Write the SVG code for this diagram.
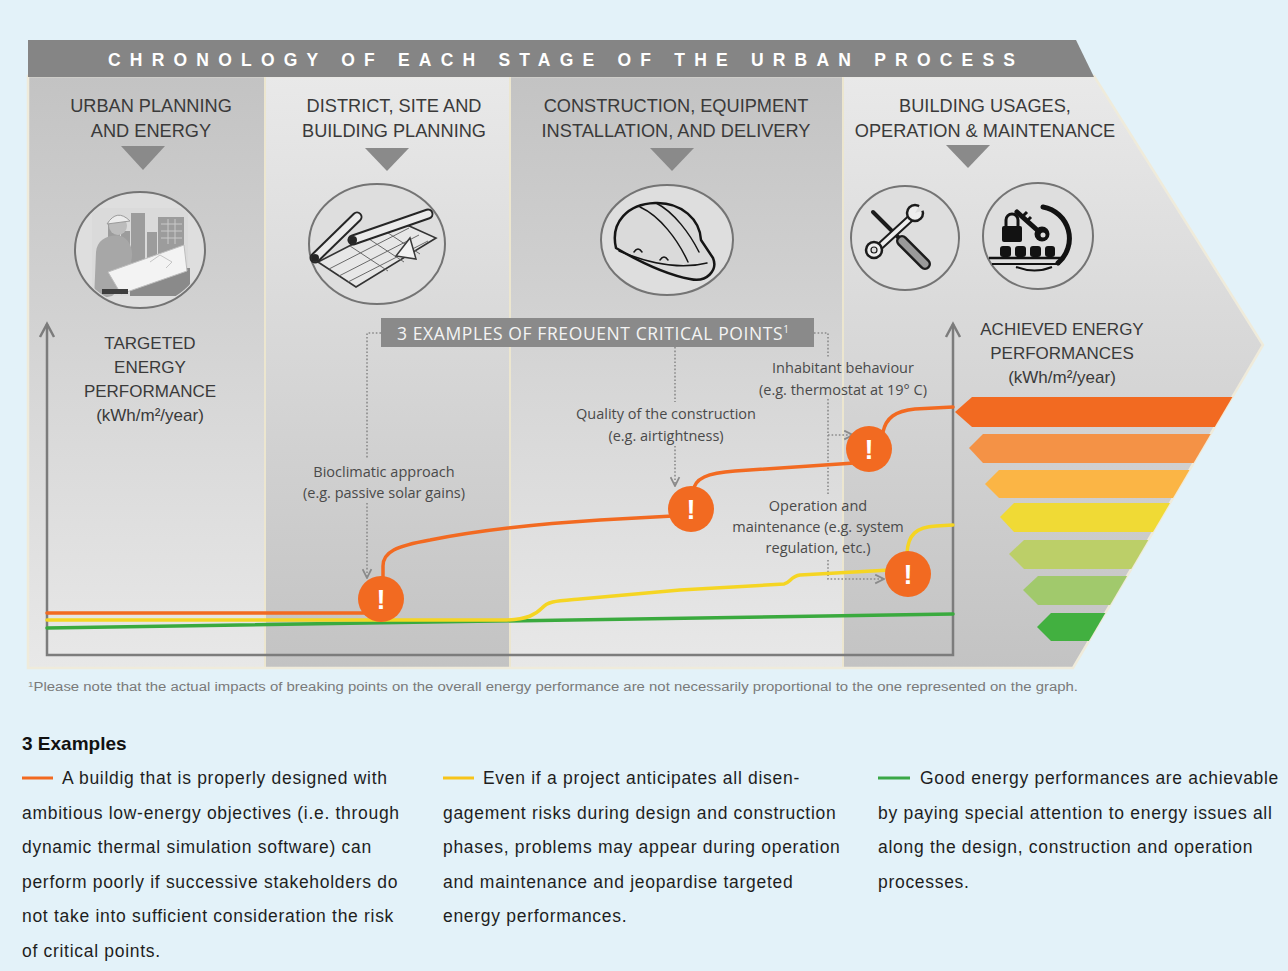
<svg xmlns="http://www.w3.org/2000/svg" width="1288" height="971" viewBox="0 0 1288 971">
  <defs>
    <style>
      .stage { font-family: "Liberation Sans", Arial, sans-serif; font-size: 18.2px; fill: #3a3a3a; text-anchor: middle; }
      .axislbl { font-family: "Liberation Sans", Arial, sans-serif; font-size: 17px; fill: #3a3a3a; text-anchor: middle; }
      .note { font-family: "Open Sans", "Liberation Sans", sans-serif; font-size: 14.5px; fill: #4a4a4a; text-anchor: middle; }
      .body { font-family: "Liberation Sans", Arial, sans-serif; font-size: 17.5px; letter-spacing: 0.7px; fill: #1e1e1e; }
      .tri { fill: #8a8a8a; }
      .ring { fill: #dedede; stroke: #747474; stroke-width: 2; }
      .axis { fill: none; stroke: #7c7c7c; stroke-width: 2.5; }
      .dots { fill: none; stroke: #8a8a8a; stroke-width: 1.6; stroke-dasharray: 1.6 2; }
      .curve { fill: none; stroke-width: 3.5; stroke-linecap: round; stroke-linejoin: round; }
      .crit { fill: #f26a21; }
      .bang { font-family: "Liberation Sans", Arial, sans-serif; font-weight: bold; font-size: 27px; fill: #ffffff; text-anchor: middle; }
      .ink { fill: none; stroke: #151515; stroke-linecap: round; stroke-linejoin: round; }
    </style>
    <linearGradient id="darkTop" gradientUnits="userSpaceOnUse" x1="0" y1="76" x2="0" y2="668">
      <stop offset="0" stop-color="#c3c3c3"/>
      <stop offset="1" stop-color="#e8e8e8"/>
    </linearGradient>
    <linearGradient id="lightTop" gradientUnits="userSpaceOnUse" x1="0" y1="76" x2="0" y2="668">
      <stop offset="0" stop-color="#e9e9e9"/>
      <stop offset="1" stop-color="#c3c3c3"/>
    </linearGradient>
    <clipPath id="bodyClip">
      <path d="M28,76 L1094,76 L1263,345 L1073,668 L28,668 Z"/>
    </clipPath>
    <clipPath id="icon1Clip">
      <ellipse cx="140" cy="250" rx="63" ry="56"/>
    </clipPath>
    <marker id="chev" viewBox="0 0 10 10" refX="9" refY="5" markerWidth="11" markerHeight="11" markerUnits="userSpaceOnUse" orient="auto">
      <path d="M1,1 L9,5 L1,9" fill="none" stroke="#8a8a8a" stroke-width="1.6"/>
    </marker>
  </defs>

  <!-- page background -->
  <rect x="0" y="0" width="1288" height="971" fill="#e3f2f9"/>

  <!-- chart body: four stage columns inside the arrow outline -->
  <g id="chart-body">
    <g clip-path="url(#bodyClip)">
      <rect x="28" y="76" width="237" height="592" fill="url(#darkTop)"/>
      <rect x="265" y="76" width="245" height="592" fill="url(#lightTop)"/>
      <rect x="510" y="76" width="333" height="592" fill="url(#darkTop)"/>
      <rect x="843" y="76" width="430" height="592" fill="url(#lightTop)"/>
      <g stroke="#ece6cf" stroke-width="2">
        <line x1="265" y1="76" x2="265" y2="668"/>
        <line x1="510" y1="76" x2="510" y2="668"/>
        <line x1="843" y1="76" x2="843" y2="668"/>
      </g>
    </g>
    <path d="M28,76 L1094,76 L1263,345 L1073,668 L28,668 Z" fill="none" stroke="#efebdb" stroke-width="2.5"/>
  </g>

  <!-- title band -->
  <g id="title">
    <path d="M28,40 L1076,40 L1094,77 L28,77 Z" fill="#858585"/>
    <text x="108" y="65.5" textLength="907" lengthAdjust="spacing" font-family="Liberation Sans, Arial, sans-serif" font-weight="bold" font-size="17.5" fill="#ffffff">CHRONOLOGY OF EACH STAGE OF THE URBAN PROCESS</text>
  </g>

  <!-- stage 1 -->
  <g id="stage-urban-planning">
    <text class="stage" x="151" y="112">URBAN PLANNING</text>
    <text class="stage" x="151" y="137">AND ENERGY</text>
    <path class="tri" d="M121,146 L165,146 L143,170 Z"/>
    <ellipse class="ring" cx="140" cy="250" rx="65" ry="58"/>
    <g clip-path="url(#icon1Clip)">
      <rect x="92" y="208" width="96" height="88" fill="#dadada"/>
      <g fill="#9c9c9c">
        <rect x="108" y="222" width="12" height="50"/>
        <rect x="121" y="231" width="9" height="41"/>
        <rect x="131" y="213" width="14" height="59"/>
        <rect x="147" y="232" width="10" height="40"/>
        <rect x="158" y="217" width="26" height="55"/>
      </g>
      <g stroke="#c9c9c9" stroke-width="1">
        <line x1="161" y1="224" x2="182" y2="224"/>
        <line x1="161" y1="231" x2="182" y2="231"/>
        <line x1="161" y1="238" x2="182" y2="238"/>
        <line x1="168" y1="219" x2="168" y2="244"/>
        <line x1="175" y1="219" x2="175" y2="244"/>
      </g>
      <rect x="130" y="268" width="60" height="28" fill="#8a8a8a"/>
      <path d="M94,300 L96,252 C97,240 108,234 121,236 C131,240 134,252 131,262 L142,270 L112,296 Z" fill="#a7a7a7"/>
      <circle cx="118" cy="226" r="9" fill="#bcbcbc"/>
      <path d="M107,224 Q117,208 130,221 Z" fill="#ececec" stroke="#9a9a9a" stroke-width="1"/>
      <path d="M108,272 L184,245 L187,271 L121,294 Z" fill="#f3f3f3" stroke="#bdbdbd" stroke-width="1"/>
      <path d="M150,262 L160,255 L172,262 L166,268" fill="none" stroke="#c4c4c4" stroke-width="1"/>
      <rect x="102" y="289" width="26" height="5" fill="#3e3e3e"/>
    </g>
  </g>

  <!-- stage 2 -->
  <g id="stage-site-planning">
    <text class="stage" x="394" y="112">DISTRICT, SITE AND</text>
    <text class="stage" x="394" y="137">BUILDING PLANNING</text>
    <path class="tri" d="M365,148 L409,148 L387,171 Z"/>
    <ellipse class="ring" cx="377" cy="244" rx="68" ry="60"/>
    <path d="M318,262 L398,221 L436,238 L356,287 Z" fill="#e7e7e7" stroke="#333333" stroke-width="1.6"/>
    <g stroke="#6a6a6a" stroke-width="1">
      <line x1="329" y1="269" x2="409" y2="228"/>
      <line x1="339" y1="276" x2="419" y2="235"/>
      <line x1="348" y1="282" x2="428" y2="241"/>
      <line x1="350" y1="246" x2="388" y2="271"/>
      <line x1="366" y1="237" x2="404" y2="262"/>
      <line x1="382" y1="229" x2="420" y2="254"/>
    </g>
    <path d="M396,256 L410,238 L416,259 Z" fill="#f2f2f2" stroke="#3a3a3a" stroke-width="1.5"/>
    <line x1="315" y1="258" x2="357" y2="217" stroke="#262626" stroke-width="11" stroke-linecap="round"/>
    <line x1="315" y1="258" x2="357" y2="217" stroke="#ebebeb" stroke-width="7" stroke-linecap="round"/>
    <circle cx="315" cy="258" r="4" fill="#262626"/>
    <line x1="353" y1="240" x2="428" y2="214" stroke="#262626" stroke-width="11" stroke-linecap="round"/>
    <line x1="353" y1="240" x2="428" y2="214" stroke="#ebebeb" stroke-width="7" stroke-linecap="round"/>
    <circle cx="353" cy="240" r="4" fill="#262626"/>
  </g>

  <!-- stage 3 -->
  <g id="stage-construction">
    <text class="stage" x="676" y="112">CONSTRUCTION, EQUIPMENT</text>
    <text class="stage" x="676" y="137">INSTALLATION, AND DELIVERY</text>
    <path class="tri" d="M650,148 L694,148 L672,171 Z"/>
    <ellipse class="ring" cx="667" cy="240" rx="66" ry="55"/>
    <path d="M616,248 C610,222 628,204 655,203 C682,202 700,220 701,240 L713,258 C718,270 707,283 690,279 C668,275 640,262 616,248 Z" fill="#dadada" stroke="#151515" stroke-width="2.5" stroke-linejoin="round"/>
    <path class="ink" stroke-width="1.5" d="M640,207 C660,216 678,240 688,262"/>
    <path class="ink" stroke-width="1.5" d="M656,203 C674,212 690,234 699,252"/>
    <path class="ink" stroke-width="1.5" d="M619,251 C648,263 680,270 707,263"/>
    <path class="ink" stroke-width="1.5" d="M634,252 q4,-6 8,0 M660,260 q4,-6 8,0"/>
  </g>

  <!-- stage 4 -->
  <g id="stage-operation">
    <text class="stage" x="985" y="112">BUILDING USAGES,</text>
    <text class="stage" x="985" y="137">OPERATION &amp; MAINTENANCE</text>
    <path class="tri" d="M946,145 L990,145 L968,168 Z"/>
    <ellipse class="ring" cx="905" cy="238" rx="54" ry="52"/>
    <!-- screwdriver -->
    <line x1="873" y1="212" x2="902" y2="241" stroke="#1c1c1c" stroke-width="4" stroke-linecap="round"/>
    <line x1="902" y1="241" x2="925" y2="264" stroke="#1c1c1c" stroke-width="12" stroke-linecap="round"/>
    <line x1="902" y1="241" x2="925" y2="264" stroke="#9a9a9a" stroke-width="7" stroke-linecap="round"/>
    <!-- wrench -->
    <line x1="913" y1="216" x2="877" y2="249" stroke="#1c1c1c" stroke-width="8" stroke-linecap="round"/>
    <line x1="913" y1="216" x2="877" y2="249" stroke="#eeeeee" stroke-width="4" stroke-linecap="round"/>
    <circle cx="915" cy="213" r="8" fill="#eeeeee" stroke="#1c1c1c" stroke-width="2.5"/>
    <path d="M915,213 L921,203 L928,209 Z" fill="#dedede"/>
    <circle cx="874" cy="250" r="8" fill="#eeeeee" stroke="#1c1c1c" stroke-width="2.5"/>
    <circle cx="874" cy="250" r="3" fill="#dedede" stroke="#1c1c1c" stroke-width="1.2"/>

    <ellipse class="ring" cx="1038" cy="236" rx="55" ry="53"/>
    <!-- lock -->
    <path d="M1006,227 V220 a6,6 0 0 1 12,0 V227" fill="none" stroke="#121212" stroke-width="3"/>
    <rect x="1002" y="226" width="20" height="16" rx="2" fill="#121212"/>
    <!-- key -->
    <line x1="1017" y1="212" x2="1036" y2="229" stroke="#121212" stroke-width="5" stroke-linecap="round"/>
    <circle cx="1042" cy="234" r="7.5" fill="#121212"/>
    <circle cx="1043" cy="235" r="2.5" fill="#dedede"/>
    <path d="M1022,217 l5,-5 M1027,221 l4,-4" stroke="#121212" stroke-width="3"/>
    <!-- arc -->
    <path d="M1043,207 A32,32 0 0 1 1058,263" fill="none" stroke="#121212" stroke-width="5" stroke-linecap="round"/>
    <!-- rollers and rails -->
    <g fill="#121212">
      <rect x="1000" y="246" width="11" height="11" rx="3"/>
      <rect x="1015" y="246" width="11" height="11" rx="3"/>
      <rect x="1030" y="246" width="11" height="11" rx="3"/>
      <rect x="1045" y="246" width="10" height="11" rx="3"/>
    </g>
    <line x1="989" y1="258" x2="1064" y2="258" stroke="#121212" stroke-width="2.5"/>
    <line x1="992" y1="264" x2="1060" y2="264" stroke="#121212" stroke-width="2"/>
    <path d="M1016,267 Q1035,274 1052,267" fill="none" stroke="#121212" stroke-width="2"/>
  </g>

  <!-- axis captions -->
  <g id="target-label">
    <text class="axislbl" x="150" y="349">TARGETED</text>
    <text class="axislbl" x="150" y="373">ENERGY</text>
    <text class="axislbl" x="150" y="397">PERFORMANCE</text>
    <text class="axislbl" x="150" y="421">(kWh/m²/year)</text>
  </g>
  <g id="achieved-label">
    <text class="axislbl" x="1062" y="335">ACHIEVED ENERGY</text>
    <text class="axislbl" x="1062" y="359">PERFORMANCES</text>
    <text class="axislbl" x="1062" y="383">(kWh/m²/year)</text>
  </g>

  <!-- energy rating bars -->
  <g id="energy-scale" clip-path="url(#bodyClip)">
    <path d="M955,412 L972,397 L1270,397 L1270,427 L972,427 Z" fill="#f26a21"/>
    <path d="M969,448 L983,434 L1270,434 L1270,463 L983,463 Z" fill="#f49246"/>
    <path d="M985,484 L999,470 L1270,470 L1270,498 L999,498 Z" fill="#fbb545"/>
    <path d="M1000,517 L1014,503 L1270,503 L1270,532 L1014,532 Z" fill="#f0da35"/>
    <path d="M1009,554 L1024,540 L1270,540 L1270,569 L1024,569 Z" fill="#bccf68"/>
    <path d="M1023,590 L1038,576 L1270,576 L1270,605 L1038,605 Z" fill="#a1c96c"/>
    <path d="M1037,627 L1051,613 L1270,613 L1270,641 L1051,641 Z" fill="#42b040"/>
  </g>

  <!-- axes -->
  <g id="axes">
    <path class="axis" d="M47,324 V655 H953 V324"/>
    <path class="axis" d="M40,337 L47,324 L54,337"/>
    <path class="axis" d="M946,337 L953,324 L960,337"/>
  </g>

  <!-- critical points heading -->
  <g id="critical-heading">
    <rect x="381" y="318" width="433" height="29" fill="#8a8a8a"/>
    <text x="397" y="339.5" font-family="Open Sans, Liberation Sans, sans-serif" font-size="17.5" letter-spacing="0.6" fill="#f4f4f4">3 EXAMPLES OF FREOUENT CRITICAL POINTS<tspan font-size="10" dy="-7">1</tspan></text>
  </g>

  <!-- connectors: dotted pointers and the three performance curves -->
  <g id="connectors">
    <path class="dots" d="M381,333 H367 V459"/>
    <path class="dots" d="M367,503 V578" marker-end="url(#chev)"/>
    <path class="dots" d="M675,347 V402"/>
    <path class="dots" d="M675,446 V486" marker-end="url(#chev)"/>
    <path class="dots" d="M814,333 H828 V357"/>
    <path class="dots" d="M828,399 V435 H853" marker-end="url(#chev)"/>
    <path class="dots" d="M828,435 V494"/>
    <path class="dots" d="M828,560 V579 H884" marker-end="url(#chev)"/>

    <path class="curve" stroke="#3aaa3e" d="M47,628 L953,614"/>
    <path class="curve" stroke="#f5d523" d="M47,620 L503,620 C528,620 536,614 542,608 C548,601 556,601 580,599 L680,590 L784,584 C790,583 791,576 800,575 L908,569"/>
    <path class="curve" stroke="#f5d523" d="M907,574 L907,553 C908,535 916,527 936,526 L953,525"/>
    <path class="curve" stroke="#f26a21" d="M47,613 L381,613"/>
    <path class="curve" stroke="#f26a21" d="M383,599 L383,566 C383,552 396,546 430,540 C470,532 520,525 600,520 L691,515"/>
    <path class="curve" stroke="#f26a21" d="M693,509 L693,492 C694,478 708,473 735,471 L869,462"/>
    <path class="curve" stroke="#f26a21" d="M883,449 L883,432 C886,418 895,411 915,409 L953,407"/>
  </g>

  <!-- pointer labels -->
  <g id="label-bioclimatic">
    <text class="note" x="384" y="477">Bioclimatic approach</text>
    <text class="note" x="384" y="498">(e.g. passive solar gains)</text>
  </g>
  <g id="label-quality">
    <text class="note" x="666" y="419">Quality of the construction</text>
    <text class="note" x="666" y="441">(e.g. airtightness)</text>
  </g>
  <g id="label-behaviour">
    <text class="note" x="843" y="373">Inhabitant behaviour</text>
    <text class="note" x="843" y="395">(e.g. thermostat at 19° C)</text>
  </g>
  <g id="label-operation">
    <text class="note" x="818" y="511">Operation and</text>
    <text class="note" x="818" y="532">maintenance (e.g. system</text>
    <text class="note" x="818" y="553">regulation, etc.)</text>
  </g>

  <!-- critical point markers -->
  <g id="critical-1"><circle class="crit" cx="381" cy="599" r="23"/><text class="bang" x="381" y="609">!</text></g>
  <g id="critical-2"><circle class="crit" cx="691" cy="509" r="23"/><text class="bang" x="691" y="519">!</text></g>
  <g id="critical-3"><circle class="crit" cx="869" cy="449" r="23"/><text class="bang" x="869" y="459">!</text></g>
  <g id="critical-4"><circle class="crit" cx="908" cy="574" r="23"/><text class="bang" x="908" y="584">!</text></g>

  <!-- footnote -->
  <text x="28" y="691" textLength="1050" lengthAdjust="spacingAndGlyphs" font-family="Liberation Sans, Arial, sans-serif" font-size="12" fill="#7a7a7a"><tspan font-size="8" dy="-4">1</tspan><tspan dy="4">Please note that the actual impacts of breaking points on the overall energy performance are not necessarily proportional to the one represented on the graph.</tspan></text>

  <!-- legend and explanations -->
  <g id="examples">
    <text x="22" y="750" font-family="Liberation Sans, Arial, sans-serif" font-weight="bold" font-size="19" fill="#111111">3 Examples</text>

    <line x1="22" y1="778" x2="53" y2="778" stroke="#f26a21" stroke-width="3"/>
    <text class="body" x="62" y="784">A buildig that is properly designed with</text>
    <text class="body" x="22" y="819">ambitious low-energy objectives (i.e. through</text>
    <text class="body" x="22" y="853">dynamic thermal simulation software) can</text>
    <text class="body" x="22" y="888">perform poorly if successive stakeholders do</text>
    <text class="body" x="22" y="922">not take into sufficient consideration the risk</text>
    <text class="body" x="22" y="957">of critical points.</text>

    <line x1="443" y1="778" x2="474" y2="778" stroke="#f7c41a" stroke-width="3"/>
    <text class="body" x="483" y="784">Even if a project anticipates all disen-</text>
    <text class="body" x="443" y="819">gagement risks during design and construction</text>
    <text class="body" x="443" y="853">phases, problems may appear during operation</text>
    <text class="body" x="443" y="888">and maintenance and jeopardise targeted</text>
    <text class="body" x="443" y="922">energy performances.</text>

    <line x1="878" y1="778" x2="910" y2="778" stroke="#3aa847" stroke-width="3"/>
    <text class="body" x="920" y="784">Good energy performances are achievable</text>
    <text class="body" x="878" y="819">by paying special attention to energy issues all</text>
    <text class="body" x="878" y="853">along the design, construction and operation</text>
    <text class="body" x="878" y="888">processes.</text>
  </g>
</svg>
